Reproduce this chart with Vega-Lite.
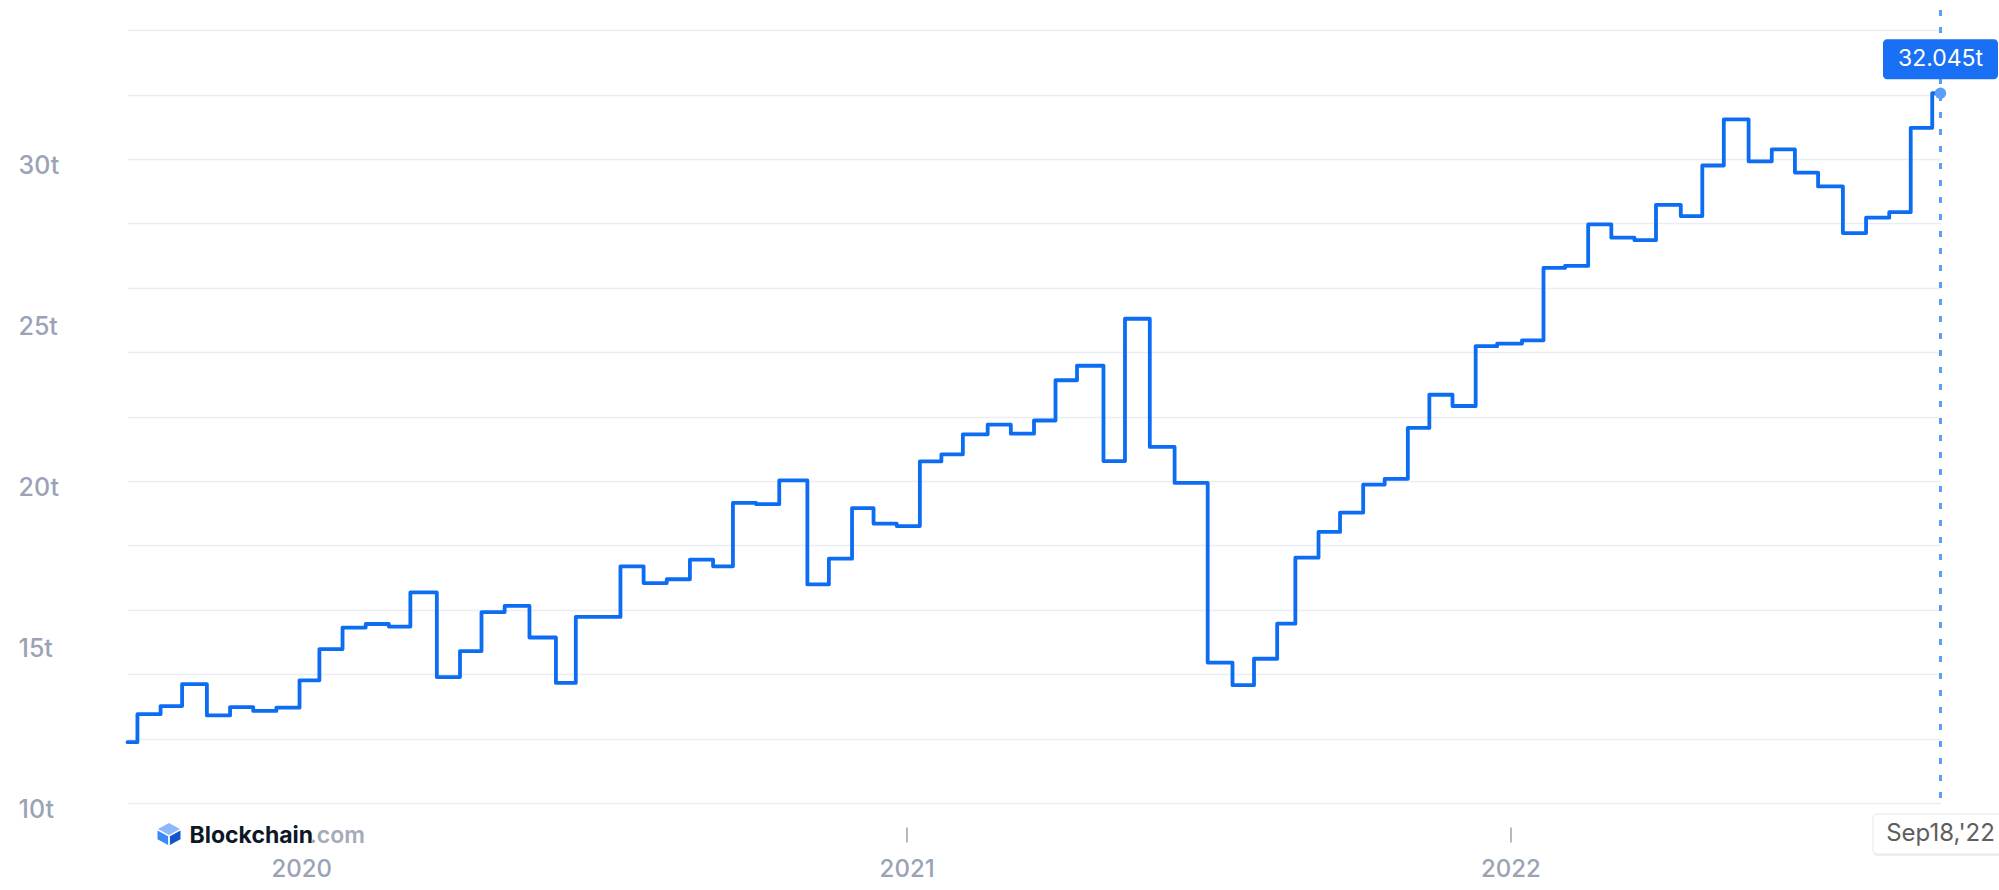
{
  "$schema": "https://vega.github.io/schema/vega-lite/v6.json",
  "width": 1813,
  "height": 793,
  "autosize": {"type": "none"},
  "padding": {"left": 127.5, "top": 10, "right": 58.5, "bottom": 87},
  "background": "white",
  "config": {"view": {"stroke": null}, "font": "Inter"},
  "data": {
    "format": {"parse": {"date": "date"}},
    "values": [
      {"date": "2019-09-18", "value": 11.89},
      {"date": "2019-09-24", "value": 12.76},
      {"date": "2019-10-08", "value": 13.01},
      {"date": "2019-10-21", "value": 13.69},
      {"date": "2019-11-05", "value": 12.72},
      {"date": "2019-11-19", "value": 12.98},
      {"date": "2019-12-03", "value": 12.86},
      {"date": "2019-12-17", "value": 12.96},
      {"date": "2019-12-31", "value": 13.81},
      {"date": "2020-01-12", "value": 14.78},
      {"date": "2020-01-26", "value": 15.45},
      {"date": "2020-02-09", "value": 15.56},
      {"date": "2020-02-23", "value": 15.48},
      {"date": "2020-03-07", "value": 16.54},
      {"date": "2020-03-23", "value": 13.91},
      {"date": "2020-04-06", "value": 14.72},
      {"date": "2020-04-19", "value": 15.93},
      {"date": "2020-05-03", "value": 16.12},
      {"date": "2020-05-18", "value": 15.14},
      {"date": "2020-06-03", "value": 13.73},
      {"date": "2020-06-15", "value": 15.78},
      {"date": "2020-07-12", "value": 17.35},
      {"date": "2020-07-26", "value": 16.83},
      {"date": "2020-08-09", "value": 16.95},
      {"date": "2020-08-23", "value": 17.56},
      {"date": "2020-09-06", "value": 17.35},
      {"date": "2020-09-18", "value": 19.32},
      {"date": "2020-10-02", "value": 19.28},
      {"date": "2020-10-16", "value": 20.02},
      {"date": "2020-11-02", "value": 16.79},
      {"date": "2020-11-15", "value": 17.59},
      {"date": "2020-11-29", "value": 19.16},
      {"date": "2020-12-12", "value": 18.68},
      {"date": "2020-12-26", "value": 18.6},
      {"date": "2021-01-09", "value": 20.61},
      {"date": "2021-01-22", "value": 20.83},
      {"date": "2021-02-04", "value": 21.45},
      {"date": "2021-02-19", "value": 21.75},
      {"date": "2021-03-05", "value": 21.47},
      {"date": "2021-03-19", "value": 21.88},
      {"date": "2021-04-01", "value": 23.13},
      {"date": "2021-04-14", "value": 23.58},
      {"date": "2021-04-30", "value": 20.62},
      {"date": "2021-05-13", "value": 25.04},
      {"date": "2021-05-28", "value": 21.06},
      {"date": "2021-06-12", "value": 19.94},
      {"date": "2021-07-02", "value": 14.36},
      {"date": "2021-07-17", "value": 13.66},
      {"date": "2021-07-30", "value": 14.48},
      {"date": "2021-08-13", "value": 15.57},
      {"date": "2021-08-24", "value": 17.62},
      {"date": "2021-09-07", "value": 18.42},
      {"date": "2021-09-20", "value": 19.02},
      {"date": "2021-10-04", "value": 19.89},
      {"date": "2021-10-17", "value": 20.07},
      {"date": "2021-10-31", "value": 21.65},
      {"date": "2021-11-13", "value": 22.68},
      {"date": "2021-11-27", "value": 22.33},
      {"date": "2021-12-11", "value": 24.19},
      {"date": "2021-12-24", "value": 24.27},
      {"date": "2022-01-08", "value": 24.37},
      {"date": "2022-01-21", "value": 26.62},
      {"date": "2022-02-03", "value": 26.68},
      {"date": "2022-02-17", "value": 27.97},
      {"date": "2022-03-03", "value": 27.56},
      {"date": "2022-03-17", "value": 27.48},
      {"date": "2022-03-30", "value": 28.58},
      {"date": "2022-04-14", "value": 28.23},
      {"date": "2022-04-27", "value": 29.8},
      {"date": "2022-05-10", "value": 31.23},
      {"date": "2022-05-25", "value": 29.93},
      {"date": "2022-06-08", "value": 30.3},
      {"date": "2022-06-22", "value": 29.58},
      {"date": "2022-07-06", "value": 29.15},
      {"date": "2022-07-21", "value": 27.7},
      {"date": "2022-08-04", "value": 28.18},
      {"date": "2022-08-18", "value": 28.35},
      {"date": "2022-08-31", "value": 30.97},
      {"date": "2022-09-13", "value": 32.045},
      {"date": "2022-09-18", "value": 32.045}
    ]
  },
  "layer": [
    {
      "mark": {"type": "line", "interpolate": "step-after", "strokeWidth": 3.8, "color": "#0C6CF2", "strokeJoin": "round", "strokeCap": "round"},
      "encoding": {
        "x": {
          "field": "date",
          "type": "temporal",
          "scale": {"type": "utc", "nice": false, "domain": [{"year": 2019, "month": 9, "date": 18, "utc": true}, {"year": 2022, "month": 9, "date": 18, "utc": true}]},
          "axis": {
            "title": null,
            "values": [{"year": 2020, "month": 1, "date": 1, "utc": true}, {"year": 2021, "month": 1, "date": 1, "utc": true}, {"year": 2022, "month": 1, "date": 1, "utc": true}],
            "labelExpr": "utcFormat(datum.value, '%Y')",
            "domain": false,
            "grid": false,
            "offset": 24,
            "tickSize": 15,
            "tickWidth": 1.5,
            "tickColor": "#9AA3B5",
            "tickOpacity": {"condition": {"test": "utcyear(datum.value) < 2021", "value": 0}, "value": 1},
            "labelFont": "Inter",
            "labelFontSize": 24,
            "labelFontWeight": 500,
            "labelColor": "#9AA3B5",
            "labelBaseline": "alphabetic",
            "labelPadding": 34,
            "labelFlush": false,
            "labelOverlap": false
          }
        },
        "y": {
          "field": "value",
          "type": "quantitative",
          "scale": {"domain": [10, 34.63], "nice": false, "zero": false},
          "axis": {
            "title": null,
            "values": [10, 12, 14, 15, 16, 18, 20, 22, 24, 25, 26, 28, 30, 32, 34],
            "labelExpr": "datum.value % 5 == 0 && datum.value <= 30 ? datum.value + 't' : ''",
            "gridOpacity": {"condition": {"test": "datum.value % 2 == 0", "value": 1}, "value": 0},
            "gridColor": "#EBEDF2",
            "gridWidth": 1.5,
            "domain": false,
            "ticks": false,
            "tickSize": 0,
            "labelAlign": "left",
            "labelPadding": 109.5,
            "labelOffset": 6,
            "labelFont": "Inter",
            "labelFontSize": 25,
            "labelFontWeight": 500,
            "labelColor": "#9AA3B5",
            "labelOverlap": false,
            "labelFlush": false
          }
        }
      }
    },
    {
      "transform": [
        {"joinaggregate": [{"op": "max", "field": "date", "as": "maxDate"}]},
        {"filter": "time(datum.date) == time(datum.maxDate)"},
        {"calculate": "format(datum.value, '.3f') + 't'", "as": "valueLabel"},
        {"calculate": "utcFormat(datum.date, \"%b%d,'%y\")", "as": "dateLabel"}
      ],
      "layer": [
        {
          "mark": {"type": "rule", "strokeDash": [6, 11], "strokeWidth": 3, "color": "#5C9DF7"},
          "encoding": {"x": {"field": "date", "type": "temporal"}}
        },
        {
          "mark": {"type": "circle", "size": 130, "color": "#5C9DF7", "opacity": 1},
          "encoding": {"x": {"field": "date", "type": "temporal"}, "y": {"field": "value", "type": "quantitative"}}
        },
        {
          "mark": {"type": "point", "shape": "M-0.93,-0.348H0.93A0.07,0.07 0 0 1 1,-0.278V0.278A0.07,0.07 0 0 1 0.93,0.348H-0.93A0.07,0.07 0 0 1 -1,0.278V-0.278A0.07,0.07 0 0 1 -0.93,-0.348Z", "size": 13225, "filled": true, "color": "#1A70F4", "opacity": 1, "yOffset": -34},
          "encoding": {"x": {"field": "date", "type": "temporal"}, "y": {"field": "value", "type": "quantitative"}}
        },
        {
          "mark": {"type": "text", "font": "Inter", "fontSize": 23, "fontWeight": 400, "color": "white", "align": "center", "baseline": "middle", "yOffset": -34},
          "encoding": {"x": {"field": "date", "type": "temporal"}, "y": {"field": "value", "type": "quantitative"}, "text": {"field": "valueLabel"}}
        },
        {
          "mark": {"type": "point", "shape": "M-0.94,-0.296H0.94A0.06,0.06 0 0 1 1,-0.236V0.236A0.06,0.06 0 0 1 0.94,0.296H-0.94A0.06,0.06 0 0 1 -1,0.236V-0.236A0.06,0.06 0 0 1 -0.94,-0.296Z", "size": 18225, "filled": true, "color": "#EEF0F3", "opacity": 1, "yOffset": 33},
          "encoding": {"x": {"field": "date", "type": "temporal"}, "y": {"value": "height"}}
        },
        {
          "mark": {"type": "point", "shape": "M-0.94,-0.296H0.94A0.06,0.06 0 0 1 1,-0.236V0.236A0.06,0.06 0 0 1 0.94,0.296H-0.94A0.06,0.06 0 0 1 -1,0.236V-0.236A0.06,0.06 0 0 1 -0.94,-0.296Z", "size": 18225, "filled": false, "fill": "white", "stroke": "#E4E7EC", "strokeWidth": 1, "opacity": 1, "yOffset": 31},
          "encoding": {"x": {"field": "date", "type": "temporal"}, "y": {"value": "height"}}
        },
        {
          "mark": {"type": "text", "font": "Inter", "fontSize": 24, "fontWeight": 400, "color": "#5E5E5E", "align": "center", "baseline": "middle", "yOffset": 31},
          "encoding": {"x": {"field": "date", "type": "temporal"}, "y": {"value": "height"}, "text": {"field": "dateLabel"}}
        }
      ]
    },
    {
      "data": {"values": [{"brand": "Blockchain", "suffix": ".com"}]},
      "encoding": {
        "x": {"datum": {"year": 2019, "month": 9, "date": 18, "utc": true}, "type": "temporal"},
        "y": {"value": "height"}
      },
      "layer": [
        {"mark": {"type": "point", "shape": "M0,-0.96L0.96,-0.44L0,0.08L-0.96,-0.44Z", "size": 529, "filled": true, "color": "#8AB8FB", "opacity": 1, "xOffset": 41.5, "yOffset": 31}},
        {"mark": {"type": "point", "shape": "M-1,-0.3L-0.08,0.2L-0.08,0.96L-1,0.46Z", "size": 529, "filled": true, "color": "#3B8BF6", "opacity": 1, "xOffset": 41.5, "yOffset": 31}},
        {"mark": {"type": "point", "shape": "M1,-0.3L0.08,0.2L0.08,0.96L1,0.46Z", "size": 529, "filled": true, "color": "#1355C9", "opacity": 1, "xOffset": 41.5, "yOffset": 31}},
        {
          "mark": {"type": "text", "font": "Inter", "fontSize": 23, "fontWeight": 700, "color": "#0E1726", "align": "left", "baseline": "alphabetic", "xOffset": 62, "yOffset": 40},
          "encoding": {"text": {"field": "brand"}}
        },
        {
          "mark": {"type": "text", "font": "Inter", "fontSize": 23, "fontWeight": 600, "color": "#A3AABA", "align": "left", "baseline": "alphabetic", "xOffset": 182, "yOffset": 40},
          "encoding": {"text": {"field": "suffix"}}
        }
      ]
    }
  ]
}
